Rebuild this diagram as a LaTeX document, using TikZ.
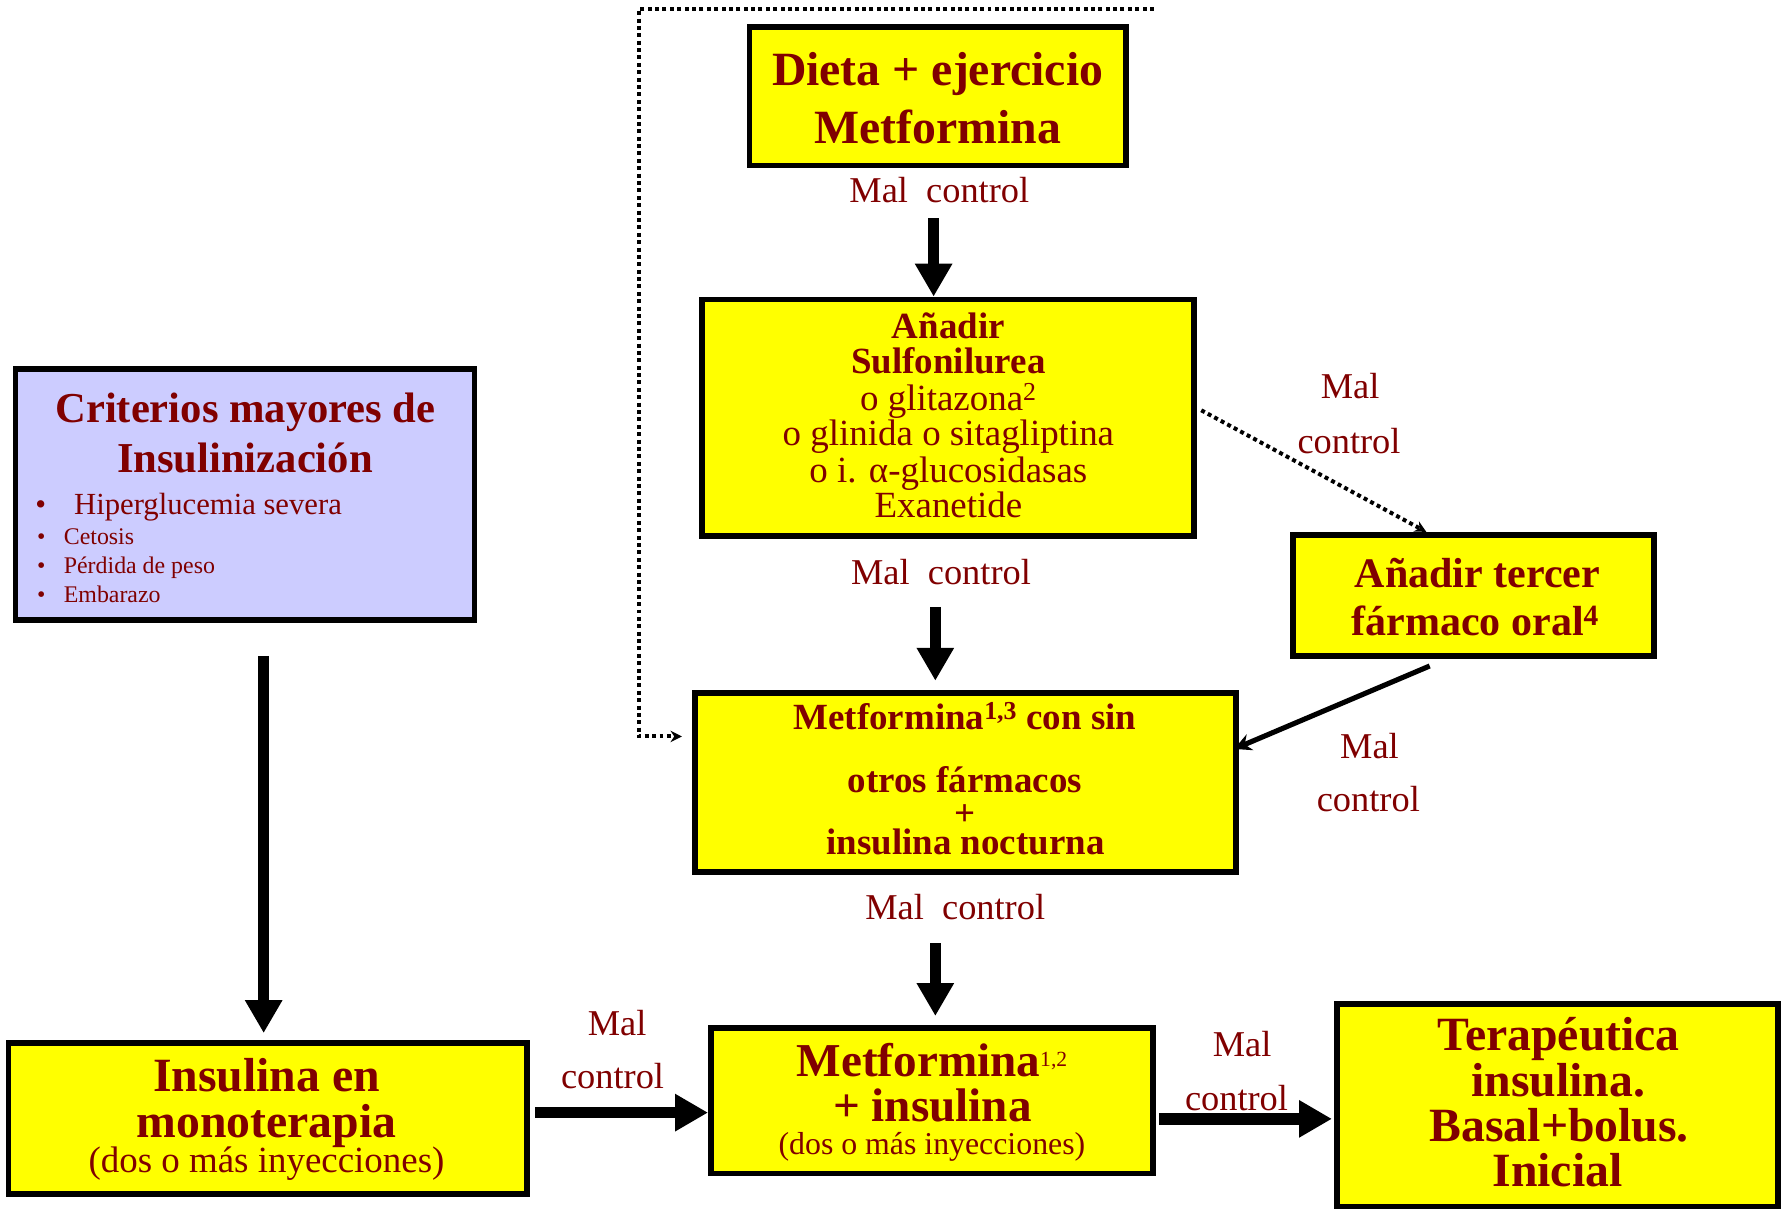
\documentclass[tikz,border=0pt]{standalone}
\usepackage{fontspec}
\setmainfont{Liberation Serif}
\usetikzlibrary{arrows.meta}
\definecolor{maroon}{RGB}{128,0,0}
\definecolor{lavender}{RGB}{204,204,255}
\definecolor{boxyellow}{RGB}{255,255,0}
\newcommand{\fsz}[1]{\fontsize{#1}{#1}\selectfont}

\begin{document}
\begin{tikzpicture}[x=1pt,y=-1pt,
  box/.style={draw=black, line width=5pt, fill=boxyellow, inner sep=0pt},
  txt/.style={text=maroon, inner sep=0pt, anchor=base},
  txtw/.style={text=maroon, inner sep=0pt, anchor=base west},
  bigarrow/.style={line width=10pt, -{Triangle[width=31pt,length=29pt]}},
  thinarrow/.style={line width=4.5pt, -{Stealth[length=15pt,width=15pt,inset=5pt]}},
  dotline/.style={line width=3.5pt, dash pattern=on 3.5pt off 3pt},
]
\useasboundingbox (0,0) rectangle (1568,1065);

% boxes
\node[box, minimum width=331pt, minimum height=122pt] (diet) at (825,84.5) {};
\node[box, minimum width=433pt, minimum height=208pt] (add) at (834,367.5) {};
\node[box, minimum width=318pt, minimum height=107pt] (third) at (1296.5,524) {};
\node[box, minimum width=476pt, minimum height=158pt] (met) at (849.5,688.5) {};
\node[box, fill=lavender, minimum width=404pt, minimum height=221pt] (crit) at (215.5,435) {};
\node[box, minimum width=456pt, minimum height=133pt] (mono) at (235.5,984) {};
\node[box, minimum width=389pt, minimum height=128pt] (metins) at (820,968.5) {};
\node[box, minimum width=388pt, minimum height=178pt] (tera) at (1370.5,972.5) {};

% texts: first step
\node[txt, font={\fsz{42}\bfseries}] (d1) at (825,75.5) {Dieta + ejercicio};
\node[txt, font={\fsz{42}\bfseries}] (d2) at (825,126) {Metformina};

% texts: second step
\node[txt, font={\fsz{32.5}\bfseries}] (a1) at (834.5,298) {Añadir};
\node[txt, font={\fsz{32.5}\bfseries}] (a2) at (834.5,329) {Sulfonilurea};
\node[txt, font={\fsz{32.5}}] (a3) at (834.5,361) {o glitazona\textsuperscript{2}};
\node[txt, font={\fsz{32.5}}] (a4) at (834.5,392) {o glinida o sitagliptina};
\node[txt, font={\fsz{32.5}}] (a5) at (834.5,424.5) {o i. α-glucosidasas};
\node[txt, font={\fsz{32.5}}] (a6) at (834.5,455) {Exanetide};

% texts: third oral drug
\node[txt, font={\fsz{37}\bfseries}] (t1) at (1300,517) {Añadir tercer};
\node[txt, font={\fsz{37}\bfseries}] (t2) at (1298,559) {fármaco oral\textsuperscript{4}};

% texts: metformin with bedtime insulin
\node[txt, font={\fsz{32.5}\bfseries}] (m1) at (849,642) {Metformina\textsuperscript{1,3} con sin};
\node[txt, font={\fsz{32.5}\bfseries}, text depth=0pt] (m2) at (849,697) {otros fármacos};
\node[txt, font={\fsz{32.5}\bfseries}, text height=17pt, text depth=0pt] (m3) at (849,726) {+};
\node[txt, font={\fsz{32.5}\bfseries}, text height=21pt] (m4) at (849.5,752) {insulina nocturna};

% texts: insulinisation criteria
\node[txt, font={\fsz{37.5}\bfseries}] (c1) at (216,372) {Criterios mayores de};
\node[txt, font={\fsz{37.5}\bfseries}] (c2) at (215.5,416) {Insulinización};
\node[txtw, font={\fsz{27}}] (b1) at (31,453) {•};
\node[txtw, font={\fsz{27}}] (c3) at (65,453) {Hiperglucemia severa};
\node[txtw, font={\fsz{21}}] (b2) at (32.5,479.5) {•};
\node[txtw, font={\fsz{21}}] (c4) at (56,479.5) {Cetosis};
\node[txtw, font={\fsz{21}}] (b3) at (32.5,504.5) {•};
\node[txtw, font={\fsz{21}}] (c5) at (56,504.5) {Pérdida de peso};
\node[txtw, font={\fsz{21}}] (b4) at (32.5,530) {•};
\node[txtw, font={\fsz{21}}] (c6) at (56,530) {Embarazo};

% texts: insulin monotherapy
\node[txt, font={\fsz{42}\bfseries}] (i1) at (234.5,960.5) {Insulina en};
\node[txt, font={\fsz{42}\bfseries}] (i2) at (234.5,1000.5) {monoterapia};
\node[txt, font={\fsz{32.5}}] (i3) at (234.5,1032) {(dos o más inyecciones)};

% texts: metformin plus insulin
\node[txt, font={\fsz{41.5}\bfseries}] (n1) at (820,947.4) {Metformina{\mdseries\fsz{19}\raisebox{9pt}{1,2}}};
\node[txt, font={\fsz{41.5}\bfseries}] (n2) at (820.5,987) {+ insulina};
\node[txt, font={\fsz{28}}] (n3) at (820,1016) {(dos o más inyecciones)};

% texts: basal-bolus therapy
\node[txt, font={\fsz{42}\bfseries}] (r1) at (1371.5,924) {Terapéutica};
\node[txt, font={\fsz{42}\bfseries}] (r2) at (1371,965) {insulina.};
\node[txt, font={\fsz{42}\bfseries}] (r3) at (1372,1004.6) {Basal+bolus.};
\node[txt, font={\fsz{42}\bfseries}] (r4) at (1370.5,1044) {Inicial};

% "Mal control" labels
\node[txt, font={\fsz{32}}] (l1) at (826.5,178) {Mal\ \ control};
\node[txt, font={\fsz{32}}] (l2) at (828,514) {Mal\ \ control};
\node[txt, font={\fsz{32}}] (l3) at (840.5,809) {Mal\ \ control};
\node[txt, font={\fsz{32}}] (l4a) at (1188,351) {Mal};
\node[txt, font={\fsz{32}}] (l4b) at (1187,399) {control};
\node[txt, font={\fsz{32}}] (l5a) at (1205,667) {Mal};
\node[txt, font={\fsz{32}}] (l5b) at (1204,714) {control};
\node[txt, font={\fsz{32}}] (l6a) at (543,911) {Mal};
\node[txt, font={\fsz{32}}] (l6b) at (539,958) {control};
\node[txt, font={\fsz{32}}] (l7a) at (1093,930) {Mal};
\node[txt, font={\fsz{32}}] (l7b) at (1088,977) {control};

% thick arrows
\coordinate (s1) at (821.5,192);
\draw[bigarrow] (s1) -- (s1 |- add.north);
\coordinate (s2) at (823,534);
\draw[bigarrow, shorten >=8pt] (s2) -- (s2 |- met.north);
\coordinate (s3) at (823,830);
\draw[bigarrow, shorten >=8pt] (s3) -- (s3 |- metins.north);
\coordinate (s4) at (232,577);
\draw[bigarrow, shorten >=6pt] (s4) -- (s4 |- mono.north);
\coordinate (s5) at (471,979);
\draw[bigarrow] (s5) -- (s5 -| metins.west);
\coordinate (s6) at (1020,984.5);
\draw[bigarrow, shorten >=2pt] (s6) -- (s6 -| tera.west);

% third oral drug back to metformin + insulin
\draw[thinarrow] ([xshift=-38.5pt,yshift=-6pt]third.south) -- ([xshift=-4pt,yshift=29.5pt]met.east);

% dotted paths
\draw[dotline, -{Stealth[length=10pt,width=10pt]}] ([xshift=4pt,yshift=6.5pt]add.east) -- ([xshift=-41.5pt]third.north);
\coordinate (lp) at (1015.4,8.2);
\coordinate (lc) at (562,8.2);
\draw[dotline, -{Stealth[length=10pt,width=10pt]}] (lp) -- (lc) |- ([xshift=-9pt,yshift=40.5pt]met.west);
\end{tikzpicture}
\end{document}
